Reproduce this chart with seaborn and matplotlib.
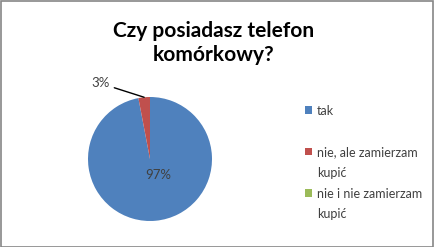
import matplotlib
matplotlib.use("Agg")
import matplotlib.pyplot as plt
import seaborn as sns
import numpy as np
from matplotlib.patches import Rectangle

sns.set_theme(style="white")
plt.rcParams['font.family'] = ['Lato', 'DejaVu Sans']

categories = ["tak", "nie, ale zamierzam kupić", "nie i nie zamierzam kupić"]
legend_lines = [["tak"], ["nie, ale zamierzam", "kupić"], ["nie i nie zamierzam", "kupić"]]
values = [97, 3, 0]
colors = ["#4F81BD", "#C0504D", "#9BBB59"]
title = "Czy posiadasz telefon\nkomórkowy?"

W, H = 435, 247
fig = plt.figure(figsize=(W / 100, H / 100), dpi=100)
cx, cy, r = 150, 159, 62
ax = fig.add_axes([(cx - r) / W, (H - cy - r) / H, 2 * r / W, 2 * r / H])

wedges, _ = ax.pie(values, colors=colors, startangle=90, counterclock=False,
                   wedgeprops=dict(linewidth=0))
ax.set_xlim(-1, 1)
ax.set_ylim(-1, 1)
ax.set_aspect('equal')
ax.axis('off')

total = sum(values)
# percentage labels
for w, v in zip(wedges, values):
    if v == 0:
        continue
    mid = np.deg2rad((w.theta1 + w.theta2) / 2)
    txt = f"{v / total * 100:.0f}%"
    if v / total > 0.5:
        ax.text(0.13, -0.25, txt, ha='center', va='center', fontsize=9.5, color='#404040')
    else:
        ex, ey = np.cos(mid), np.sin(mid)
        ax.annotate(txt, xy=(ex, ey), xytext=(-0.65, 1.22), ha='right', va='center',
                    fontsize=9.5, color='#404040', annotation_clip=False,
                    arrowprops=dict(arrowstyle='-', color='black', lw=1,
                                    shrinkA=1, shrinkB=0))

fig.text(214 / W, 1 - 43 / H, title, ha='center', va='center', fontsize=15,
         fontweight='bold', color='black', linespacing=1.28)

# legend: one row per text line, first line carries the colour square
handles, labels = [], []
for i, lines in enumerate(legend_lines):
    for j, line in enumerate(lines):
        if j == 0:
            handles.append(wedges[i])
        else:
            handles.append(Rectangle((0, 0), 1, 1, visible=False))
        labels.append(line)
    if i == 0:
        handles.append(Rectangle((0, 0), 1, 1, visible=False))
        labels.append(" ")

leg = fig.legend(handles, labels, loc='upper left', bbox_to_anchor=(305 / W, 1 - 104.5 / H),
                 frameon=False, fontsize=9, handlelength=0.55, handleheight=0.55,
                 handletextpad=0.4, labelspacing=0.70, borderpad=0, borderaxespad=0)
for t in leg.get_texts():
    t.set_color('#404040')

fig.patches.append(Rectangle((0.5 / W, 0.5 / H), 1 - 2.5 / W, 1 - 2 / H,
                             transform=fig.transFigure, fill=False,
                             edgecolor='#868686', linewidth=1.2))

fig.savefig("out.png", dpi=100, facecolor='white')
